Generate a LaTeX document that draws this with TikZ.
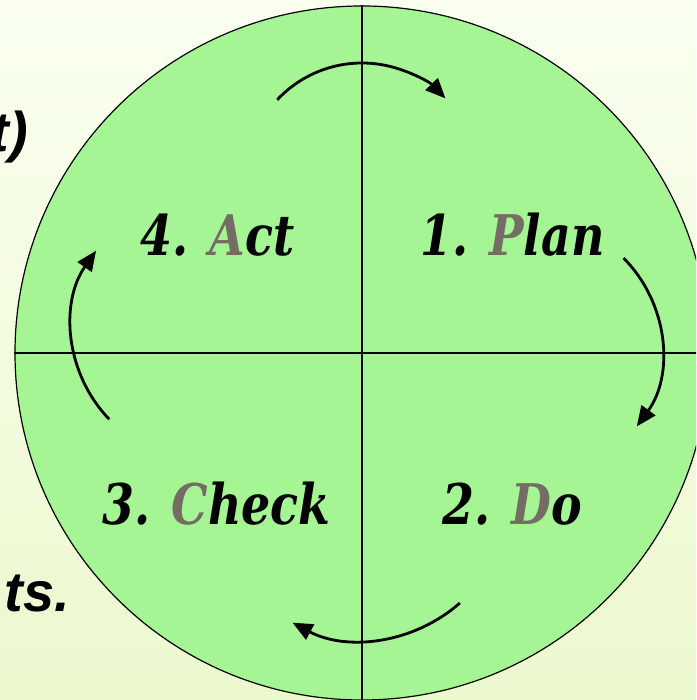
\documentclass[tikz,border=0pt]{standalone}
\usepackage{fontspec}
\newfontfamily\labelfont{DejaVu Serif}
\newfontfamily\sidefont{Liberation Sans}
\usetikzlibrary{arrows.meta,calc}
\definecolor{circfill}{HTML}{A6F594}
\definecolor{grayletter}{HTML}{756D64}
\definecolor{bgtop}{HTML}{FAFFF0}
\definecolor{bgbot}{HTML}{ECF8CE}
\tikzset{
  stepname/.style={anchor=base west, inner sep=0pt, font=\labelfont\fontsize{56}{56}\selectfont\bfseries\itshape, text=black},
  sidetext/.style={anchor=base east, inner sep=0pt, font=\sidefont\fontsize{56}{56}\selectfont\bfseries\itshape, text=black},
  cyclearrow/.style={line width=2.8pt, -{Triangle[length=20pt,width=17pt]}},
  divider/.style={line width=1.1pt, black}
}
\begin{document}
\begin{tikzpicture}[x=1pt,y=1pt]
\useasboundingbox (0,0) rectangle (696,700);
\begin{scope}
\clip (0,0) rectangle (696,700);
\shade[top color=bgtop, bottom color=bgbot] (0,0) rectangle (696,700);
\node[sidetext] (sideA) at (28,548) {t)};
\node[sidetext] (sideB) at (70,88) {ts.};
\node[circle, draw=black, line width=1.2pt, fill=circfill, minimum size=694pt, inner sep=0pt] (wheel) at (362,347) {};
\draw[divider] (wheel.north) -- (wheel.south);
\draw[divider] (wheel.west) -- (wheel.east);
\end{scope}
\node[stepname] (act) at (140,444) {\scalebox{0.82}[1]{4. {\color{grayletter}A}ct}};
\node[stepname] (plan) at (420,444) {\scalebox{0.82}[1]{1. {\color{grayletter}P}lan}};
\node[stepname] (check) at (102,175) {\scalebox{0.82}[1]{3. {\color{grayletter}C}heck}};
\node[stepname] (do) at (442,175) {\scalebox{0.82}[1]{2. {\color{grayletter}D}o}};
% top arc (Act -> Plan)
\coordinate (tc) at (362,521);
\draw[cyclearrow] ($(tc)+(137:116)$) arc[start angle=137, end angle=44, radius=116];
% right arc (Plan -> Do)
\coordinate (rc) at (531.6,350);
\draw[cyclearrow] ($(rc)+(45:130)$) arc[start angle=45, end angle=-36, radius=130];
% bottom arc (Do -> Check)
\coordinate (bc) at (362,208);
\draw[cyclearrow] ($(bc)+(-48.6:148)$) arc[start angle=-48.6, end angle=-118, radius=148];
% left arc (Check -> Act)
\coordinate (lc) at (205,373);
\draw[cyclearrow] ($(lc)+(224:133)$) arc[start angle=224, end angle=145, radius=133];
\end{tikzpicture}
\end{document}
